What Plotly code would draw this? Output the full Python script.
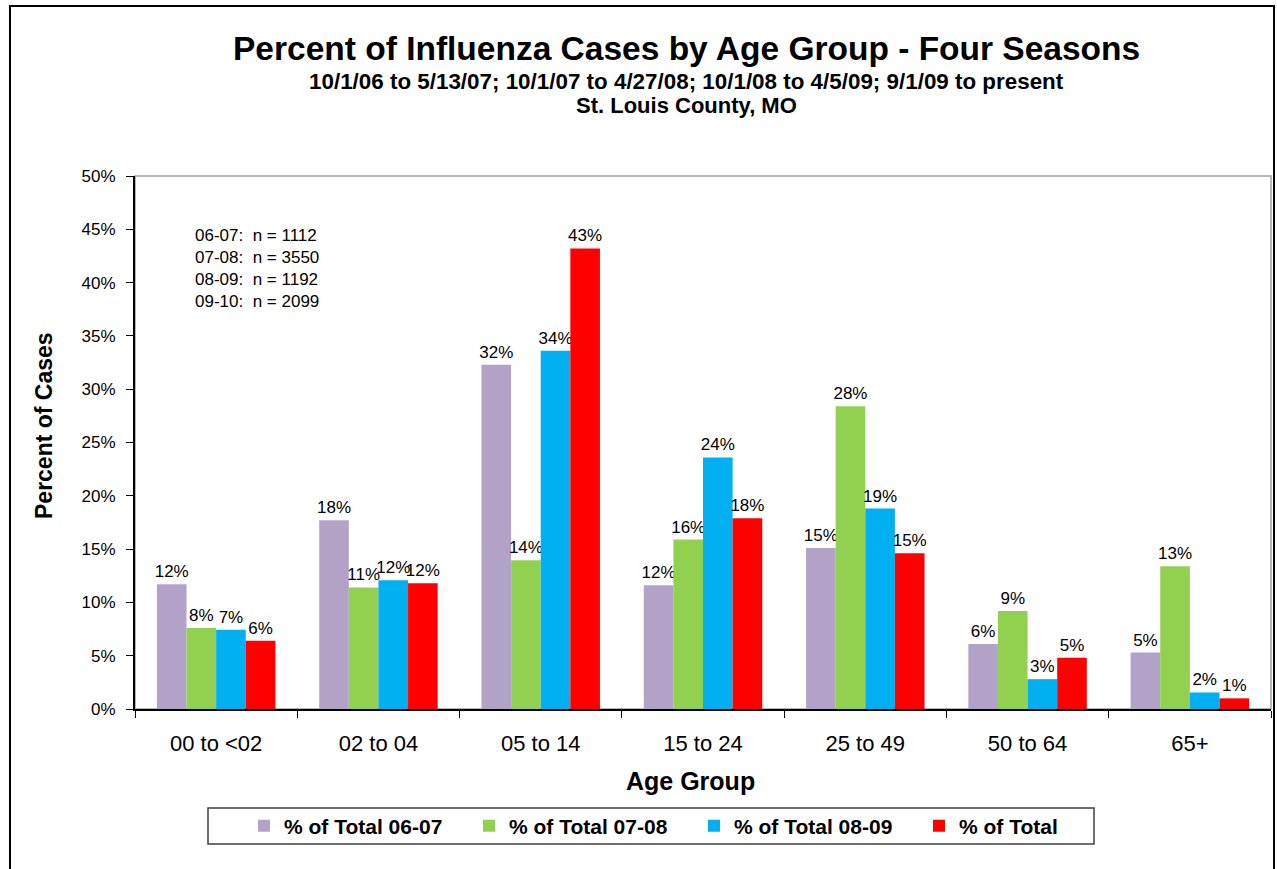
import plotly.graph_objects as go

age_groups = ["00 to <02", "02 to 04", "05 to 14", "15 to 24", "25 to 49", "50 to 64", "65+"]
series_names = ["% of Total 06-07", "% of Total 07-08", "% of Total 08-09", "% of Total"]
pct_0607 = [11.7, 17.7, 32.3, 11.6, 15.1, 6.1, 5.3]
pct_0708 = [7.6, 11.4, 13.95, 15.9, 28.4, 9.2, 13.4]
pct_0809 = [7.44, 12.07, 33.6, 23.6, 18.8, 2.8, 1.55]
pct_0910 = [6.4, 11.8, 43.2, 17.9, 14.6, 4.8, 1.0]
colors = ["#B3A2C7", "#92D050", "#00B0F0", "#FF0000"]
y_ticks = [0, 5, 10, 15, 20, 25, 30, 35, 40, 45, 50]
n_lines = ["06-07:\u00a0 n = 1112", "07-08:\u00a0 n = 3550", "08-09:\u00a0 n = 1192", "09-10:\u00a0 n = 2099"]

W, H = 1277, 869
L, R, T, B = 135, 1271, 176, 709
FONT = "Liberation Sans, Arial, sans-serif"


def px(x):
    return (x - L) / (R - L)


def py(y):
    return (B - y) / (B - T)


fig = go.Figure()
for name, vals, col in zip(series_names, [pct_0607, pct_0708, pct_0809, pct_0910], colors):
    fig.add_trace(go.Bar(
        x=age_groups, y=vals, name=name,
        marker=dict(color=col, line=dict(width=0)),
        texttemplate="%{y:.0f}%", textposition="outside",
        textfont=dict(family=FONT, size=17, color="black"),
        constraintext="none", cliponaxis=False,
    ))

fig.update_layout(
    width=W, height=H,
    margin=dict(l=L, r=W - R, t=T, b=H - B, pad=0),
    paper_bgcolor="white", plot_bgcolor="white",
    barmode="group", bargap=0.27, bargroupgap=0,
    font=dict(family=FONT, color="black"),
    showlegend=True,
    legend=dict(
        orientation="h", x=px(244), xanchor="left", y=py(826), yanchor="middle",
        font=dict(family=FONT, size=21, color="black", weight="bold"),
        entrywidth=180, entrywidthmode="pixels",
        bgcolor="rgba(0,0,0,0)", borderwidth=0,
    ),
    xaxis=dict(
        type="category", showgrid=False, showline=True, linecolor="black", linewidth=2,
        ticks="outside", tickson="boundaries", ticklen=7, tickcolor="black", tickwidth=1,
        tickfont=dict(family=FONT, size=22, color="black"), ticklabelstandoff=14,
        zeroline=False,
    ),
    yaxis=dict(
        range=[0, 50], tickvals=y_ticks, ticktext=[f"{v}%" for v in y_ticks],
        showgrid=False, showline=True, linecolor="black", linewidth=2,
        ticks="outside", ticklen=7, tickcolor="black", tickwidth=1,
        tickfont=dict(family=FONT, size=17, color="black"), ticklabelstandoff=7,
        zeroline=False,
    ),
)

shapes = [
    # outer chart frame
    dict(type="rect", xref="paper", yref="paper", x0=px(10), x1=px(1274), y0=py(900), y1=py(6),
         line=dict(color="black", width=2), fillcolor="rgba(0,0,0,0)", layer="below"),
    # plot area border (top/right grey)
    dict(type="rect", xref="paper", yref="paper", x0=0, x1=1, y0=0, y1=1,
         line=dict(color="#A0A0A0", width=1.5), fillcolor="rgba(0,0,0,0)", layer="below"),
    # legend box
    dict(type="rect", xref="paper", yref="paper", x0=px(208), x1=px(1094), y0=py(844), y1=py(808),
         line=dict(color="#404040", width=1.5), fillcolor="rgba(0,0,0,0)", layer="below"),
]
fig.update_layout(shapes=shapes)

annotations = [
    dict(text="Percent of Influenza Cases by Age Group - Four Seasons", x=px(686), y=py(49),
         font=dict(family=FONT, size=33.5, color="black", weight="bold")),
    dict(text="10/1/06 to 5/13/07; 10/1/07 to 4/27/08; 10/1/08 to 4/5/09; 9/1/09 to present",
         x=px(686), y=py(81), font=dict(family=FONT, size=22.4, color="black", weight="bold")),
    dict(text="St. Louis County, MO", x=px(686), y=py(105),
         font=dict(family=FONT, size=22, color="black", weight="bold")),
    dict(text="Age Group", x=px(690), y=py(781),
         font=dict(family=FONT, size=25, color="black", weight="bold")),
    dict(text="Percent of Cases", x=px(44), y=py(426), textangle=-90,
         font=dict(family=FONT, size=23, color="black", weight="bold")),
    dict(text="<br>".join(n_lines), x=px(193), y=py(268), xanchor="left", align="left",
         font=dict(family=FONT, size=17, color="black")),
]
for a in annotations:
    a.setdefault("xanchor", "center")
    a.update(xref="paper", yref="paper", yanchor="middle", showarrow=False)
fig.update_layout(annotations=annotations)

fig.write_html(
    "out.html",
    config={"displayModeBar": False},
    post_script="document.body.style.margin='0';document.body.style.overflow='hidden';",
)
